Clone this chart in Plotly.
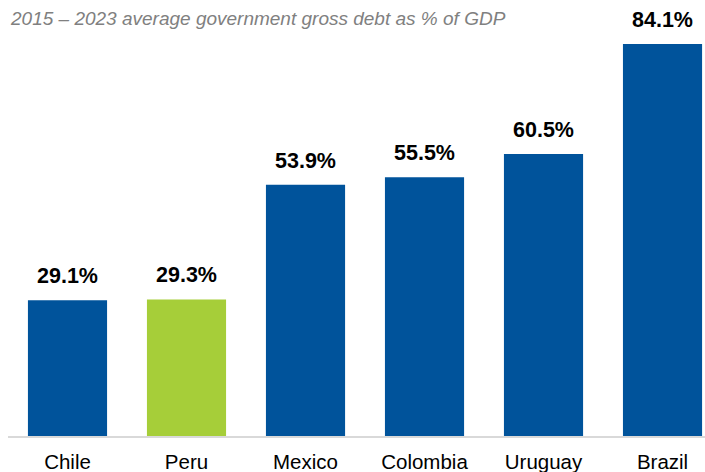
import plotly.graph_objects as go

countries = ["Chile", "Peru", "Mexico", "Colombia", "Uruguay", "Brazil"]
debt = [29.1, 29.3, 53.9, 55.5, 60.5, 84.1]
colors = ["#00539B", "#A6CE39", "#00539B", "#00539B", "#00539B", "#00539B"]
title_text = "2015 \u2013 2023 average government gross debt as % of GDP"

FONT = "Arial, Liberation Sans, sans-serif"

fig = go.Figure()
fig.add_trace(go.Bar(x=countries, y=debt, marker=dict(color=colors, line=dict(width=0)),
                     width=0.665, hoverinfo="skip"))

for c, v in zip(countries, debt):
    fig.add_annotation(x=c, y=v, text=f"<b>{v:.1f}%</b>", showarrow=False,
                       yanchor="bottom", yshift=10,
                       font=dict(family=FONT, size=21.5, color="#000000"))

fig.add_annotation(xref="paper", yref="paper", x=0, y=1, xanchor="left", yanchor="middle",
                   text=f"<i>{title_text}</i>", showarrow=False, yshift=-8,
                   font=dict(family=FONT, size=19, color="#808080"))

fig.update_layout(
    width=705, height=472,
    margin=dict(l=8, r=0, t=10, b=36),
    paper_bgcolor="white", plot_bgcolor="white",
    showlegend=False,
    bargap=0.335,
    xaxis=dict(range=[-0.5, 5.357], showgrid=False, zeroline=False,
               showline=True, linecolor="#D9D9D9", linewidth=2,
               ticks="outside", ticklen=6, tickcolor="rgba(0,0,0,0)",
               tickfont=dict(family=FONT, size=20.5, color="#000000")),
    yaxis=dict(range=[0, 91.4], visible=False, showgrid=False, zeroline=False),
)

fig.write_html("out.html", config={"displayModeBar": False},
               post_script="document.body.style.margin='0';document.body.style.overflow='hidden';")
